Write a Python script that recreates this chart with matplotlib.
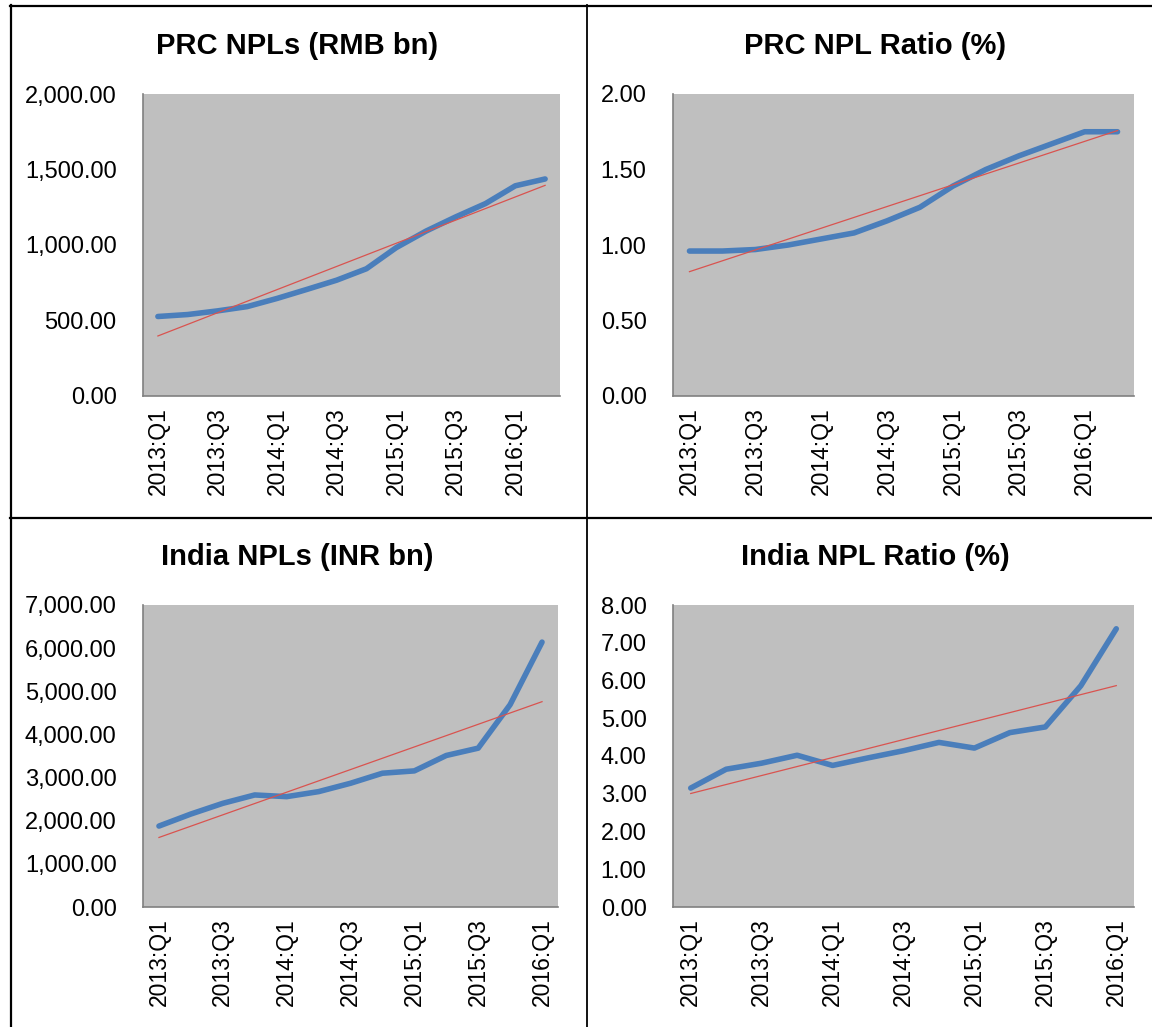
import matplotlib
matplotlib.use("Agg")
import matplotlib.pyplot as plt
from matplotlib.lines import Line2D
from matplotlib.ticker import FuncFormatter
import numpy as np

plt.rcParams["font.family"] = ["Liberation Sans", "DejaVu Sans"]

# quarters
prc_quarters = [
    "2013:Q1", "2013:Q2", "2013:Q3", "2013:Q4",
    "2014:Q1", "2014:Q2", "2014:Q3", "2014:Q4",
    "2015:Q1", "2015:Q2", "2015:Q3", "2015:Q4",
    "2016:Q1", "2016:Q2",
]
india_quarters = prc_quarters[:13]

prc_npls = [526.5, 539.5, 563.6, 592.1, 646.1, 705.8, 766.9, 842.6,
            982.3, 1091.9, 1186.3, 1274.4, 1392.1, 1437.3]
prc_ratio = [0.96, 0.96, 0.97, 1.00, 1.04, 1.08, 1.16, 1.25,
             1.39, 1.50, 1.59, 1.67, 1.75, 1.75]
india_npls = [1876, 2155, 2403, 2597, 2558, 2674, 2868, 3101,
              3155, 3512, 3682, 4690, 6140]
india_ratio = [3.15, 3.65, 3.81, 4.02, 3.75, 3.95, 4.14, 4.36,
               4.21, 4.62, 4.77, 5.86, 7.37]

W, H = 1152, 1027
BLUE = "#4a7ebb"
RED = "#d9534f"
GRAY = "#bfbfbf"

# (title, quarters, values, ymax, ystep, axes px box left,top,right,bottom, title center x, title y)
panels = [
    ("PRC NPLs (RMB bn)", prc_quarters, prc_npls, 2000, 500, (143, 94, 560, 396), 297, 46),
    ("PRC NPL Ratio (%)", prc_quarters, prc_ratio, 2.0, 0.5, (673, 94, 1134, 396), 875, 46),
    ("India NPLs (INR bn)", india_quarters, india_npls, 7000, 1000, (143, 605, 558, 907), 297, 557),
    ("India NPL Ratio (%)", india_quarters, india_ratio, 8.0, 1.0, (673, 605, 1134, 907), 875, 557),
]

fig = plt.figure(figsize=(W / 100, H / 100), dpi=100)

for title, quarters, vals, ymax, ystep, (l, t, r, b), tx, ty in panels:
    ax = fig.add_axes([l / W, 1 - b / H, (r - l) / W, (b - t) / H])
    ax.set_facecolor(GRAY)
    x = np.arange(len(quarters))
    ax.plot(x, vals, color=BLUE, linewidth=4.0, solid_capstyle="round",
            solid_joinstyle="round", zorder=3)
    # Excel-style linear trendline
    k, c = np.polyfit(x, vals, 1)
    ax.plot(x, k * x + c, color=RED, linewidth=0.9, zorder=4)

    ax.set_xlim(-0.5, len(quarters) - 0.5)
    ax.set_ylim(0, ymax)
    ax.set_yticks(np.arange(0, ymax + ystep / 2, ystep))
    ax.yaxis.set_major_formatter(FuncFormatter(lambda v, p: f"{v:,.2f}"))
    ax.set_xticks(x[::2])
    ax.set_xticklabels(quarters[::2], rotation=90, fontsize=16.5)
    ax.tick_params(axis="y", labelsize=17, length=0, pad=19)
    ax.tick_params(axis="x", length=0, pad=8)
    for s in ("top", "right"):
        ax.spines[s].set_visible(False)
    for s in ("left", "bottom"):
        ax.spines[s].set_color("#808080")
        ax.spines[s].set_linewidth(1.2)

    fig.text(tx / W, 1 - ty / H, title, ha="center", va="center",
             fontsize=21, fontweight="bold")

# cell borders
def hline(y, x0, x1, lw):
    fig.add_artist(Line2D([x0 / W, x1 / W], [1 - y / H, 1 - y / H], color="black", linewidth=lw))

def vline(x, y0, y1, lw):
    fig.add_artist(Line2D([x / W, x / W], [1 - y0 / H, 1 - y1 / H], color="black", linewidth=lw))

hline(6, 10, W, 1.6)
hline(518, 10, W, 1.6)
vline(11, 5, H, 1.6)
vline(587, 5, H, 1.3)

fig.savefig("out.png", dpi=100)
